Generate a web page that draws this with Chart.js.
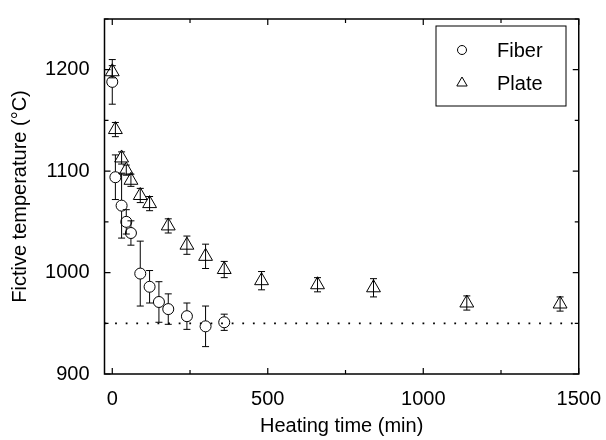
<!DOCTYPE html>
<html>
<head>
<meta charset="utf-8">
<script src="https://cdn.jsdelivr.net/npm/chart.js@4/dist/chart.umd.min.js"></script>
<style>
  html, body { margin: 0; padding: 0; background: #fff; }
</style>
</head>
<body>
<canvas id="chart" width="606" height="440"></canvas>
<script>
// Fiber samples (circles)
const fiberTime = [0, 10, 30, 45, 60, 90, 120, 150, 180, 240, 300, 360];
const fiberTemp = [1188, 1094, 1066, 1050, 1039, 999, 986, 971, 964, 957, 947, 951];
const fiberErr  = [22, 22, 32, 12, 12, 32, 16, 20, 15, 13, 20, 8];

// Plate samples (triangles)
const plateTime = [0, 10, 30, 45, 60, 90, 120, 180, 240, 300, 360, 480, 660, 840, 1140, 1440];
const plateTemp = [1198, 1141, 1113, 1101, 1091, 1076, 1068, 1046, 1027, 1016, 1003, 992, 988, 985, 970, 969];
const plateErr  = [6, 7, 6, 5, 6, 7, 7, 7, 9, 12, 8, 9, 7, 9, 7, 7];

// reference level (dotted line)
const baseTemp = 950;

// axes
const xRange = [-25, 1500];
const yRange = [900, 1250];
const xMajor = [0, 500, 1000, 1500];
const xMinor = [250, 750, 1250];
const yMajor = [900, 1000, 1100, 1200];
const yMinor = [950, 1050, 1150, 1250];

const FONT = '"Liberation Sans", Arial, Helvetica, sans-serif';

function toPoints(xs, ys) {
    return xs.map((x, i) => ({ x: x, y: ys[i] }));
}

// vertical error bars with caps; circles leave a gap so the bar stops at the rim
const errorBars = {
    id: 'errorBars',
    beforeDatasetsDraw(chart) {
        const ctx = chart.ctx;
        const ys = chart.scales.y;
        chart.data.datasets.forEach((ds, i) => {
            if (!ds.errors) return;
            const meta = chart.getDatasetMeta(i);
            const gap = ds.errorGap || 0;
            ctx.save();
            ctx.strokeStyle = '#000';
            ctx.lineWidth = 1;
            meta.data.forEach((pt, j) => {
                const v = ds.data[j].y;
                const top = ys.getPixelForValue(v + ds.errors[j]);
                const bot = ys.getPixelForValue(v - ds.errors[j]);
                ctx.beginPath();
                if (gap > 0) {
                    if (pt.y - gap > top) { ctx.moveTo(pt.x, top); ctx.lineTo(pt.x, pt.y - gap); }
                    if (pt.y + gap < bot) { ctx.moveTo(pt.x, pt.y + gap); ctx.lineTo(pt.x, bot); }
                } else {
                    ctx.moveTo(pt.x, top); ctx.lineTo(pt.x, bot);
                }
                ctx.moveTo(pt.x - 3.5, top); ctx.lineTo(pt.x + 3.5, top);
                ctx.moveTo(pt.x - 3.5, bot); ctx.lineTo(pt.x + 3.5, bot);
                ctx.stroke();
            });
            ctx.restore();
        });
    }
};

// closed frame with inward ticks on all sides, plus the boxed legend
const frame = {
    id: 'frame',
    afterDraw(chart) {
        const ctx = chart.ctx;
        const a = chart.chartArea;
        const xs = chart.scales.x, ys = chart.scales.y;
        ctx.save();
        ctx.strokeStyle = '#000';
        ctx.lineWidth = 1.5;
        ctx.strokeRect(a.left, a.top, a.right - a.left, a.bottom - a.top);

        ctx.lineWidth = 1.2;
        ctx.beginPath();
        const tickX = (v, len) => {
            const p = xs.getPixelForValue(v);
            ctx.moveTo(p, a.bottom); ctx.lineTo(p, a.bottom - len);
            ctx.moveTo(p, a.top); ctx.lineTo(p, a.top + len);
        };
        const tickY = (v, len) => {
            const p = ys.getPixelForValue(v);
            ctx.moveTo(a.left, p); ctx.lineTo(a.left + len, p);
            ctx.moveTo(a.right, p); ctx.lineTo(a.right - len, p);
        };
        xMajor.forEach(v => tickX(v, 6));
        xMinor.forEach(v => tickX(v, 4));
        yMajor.forEach(v => tickY(v, 6));
        yMinor.forEach(v => tickY(v, 4));
        ctx.stroke();

        // legend
        const bx = 436, by = 26, bw = 130, bh = 80;
        ctx.lineWidth = 1;
        ctx.strokeRect(bx, by, bw, bh);
        ctx.font = '20px ' + FONT;
        ctx.fillStyle = '#000';
        ctx.textBaseline = 'middle';
        ctx.textAlign = 'left';
        const rows = chart.data.datasets.filter(d => d.errors);
        rows.forEach((ds, i) => {
            const cy = by + 24 + i * 33;
            ctx.beginPath();
            if (ds.pointStyle === 'triangle') {
                const r = 6;
                ctx.moveTo(bx + 26, cy - r);
                ctx.lineTo(bx + 26 + r * 0.866, cy + r / 2);
                ctx.lineTo(bx + 26 - r * 0.866, cy + r / 2);
                ctx.closePath();
            } else {
                ctx.arc(bx + 26, cy, 4.5, 0, Math.PI * 2);
            }
            ctx.stroke();
            ctx.fillText(ds.label, bx + 61, cy + 1);
        });
        ctx.restore();
    }
};

const ctx = document.getElementById('chart').getContext('2d');
new Chart(ctx, {
    type: 'scatter',
    data: {
        datasets: [
            {
                type: 'line',
                label: 'base',
                data: [{ x: xRange[0], y: baseTemp }, { x: xRange[1], y: baseTemp }],
                borderColor: '#000',
                borderWidth: 1.8,
                borderDash: [1.8, 8.8],
                pointRadius: 0,
                fill: false
            },
            {
                label: 'Fiber',
                data: toPoints(fiberTime, fiberTemp),
                errors: fiberErr,
                errorGap: 5.5,
                pointStyle: 'circle',
                pointRadius: 5.5,
                borderWidth: 1,
                borderColor: '#000',
                backgroundColor: 'rgba(0,0,0,0)'
            },
            {
                label: 'Plate',
                data: toPoints(plateTime, plateTemp),
                errors: plateErr,
                pointStyle: 'triangle',
                pointRadius: 8,
                borderWidth: 1,
                borderColor: '#000',
                backgroundColor: 'rgba(0,0,0,0)'
            }
        ]
    },
    options: {
        responsive: false,
        animation: false,
        devicePixelRatio: 1,
        layout: { padding: { top: 13, right: 23.3, left: 0, bottom: 0 } },
        plugins: {
            legend: { display: false },
            tooltip: { enabled: false }
        },
        scales: {
            x: {
                type: 'linear',
                min: xRange[0],
                max: xRange[1],
                afterBuildTicks: s => { s.ticks = xMajor.map(v => ({ value: v })); },
                afterFit: s => { s.height = 66; },
                grid: { display: false },
                border: { display: false },
                ticks: {
                    color: '#000', font: { size: 20, family: FONT }, padding: 5, maxRotation: 0,
                    callback: v => String(v)
                },
                title: {
                    display: true,
                    text: 'Heating time (min)',
                    color: '#000',
                    font: { size: 20, family: FONT },
                    padding: { top: 0, bottom: 2 }
                }
            },
            y: {
                type: 'linear',
                min: yRange[0],
                max: yRange[1],
                afterBuildTicks: s => { s.ticks = yMajor.map(v => ({ value: v })); },
                afterFit: s => { s.width = 104.5; },
                grid: { display: false },
                border: { display: false },
                ticks: {
                    color: '#000', font: { size: 20, family: FONT }, padding: 7,
                    callback: v => String(v)
                },
                title: {
                    display: true,
                    text: 'Fictive temperature (°C)',
                    color: '#000',
                    font: { size: 20, family: FONT },
                    padding: { top: 8, bottom: 0 }
                }
            }
        }
    },
    plugins: [errorBars, frame]
});
</script>
</body>
</html>
